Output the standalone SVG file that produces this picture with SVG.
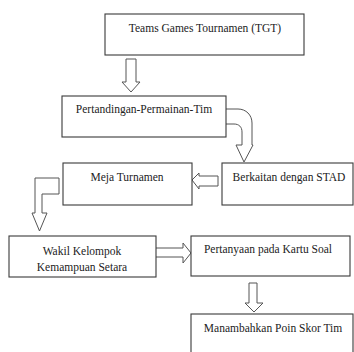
<svg xmlns="http://www.w3.org/2000/svg" width="354" height="352" viewBox="0 0 354 352">
<style>
.box{fill:#fff;stroke:#3a3a3a;stroke-width:1.1}
.arr{fill:#fff;stroke:#555;stroke-width:1;stroke-linejoin:miter}
text{font-family:"Liberation Serif","Times New Roman",serif;font-size:11.5px;fill:#222;text-anchor:middle}
</style>
<rect width="354" height="352" fill="#fff"/>
<g id="connectors">
<path class="arr" d="M126,59 H136 V82 H140 L131,92 L122,82 H126 Z"/>
<path class="arr" d="M225,109 H238 C246,109 252,115 252,123 V145 H253 L244,162 L236,145 H242 V132 C242,127 239,124 234,124 H225"/>
<path class="arr" d="M218,176 H199 V173 L192,180 L199,189 V186 H218 Z"/>
<path class="arr" d="M59,178 H35 V213 H32 L39.5,231 L47,213 H42 V194 H59 Z"/>
<path class="arr" d="M156,248 H183 V243 L191,253 L183,263 V257 H156"/>
<path class="arr" d="M249,283 H257 V303 H263 L254,312 L245,303 H249 Z"/>
</g>
<g id="n1"><rect class="box" x="105" y="14" width="199" height="41"/><text x="205" y="32">Teams Games Tournamen (TGT)</text></g>
<g id="n2"><rect class="box" x="62" y="96" width="164" height="41"/><text x="144" y="113">Pertandingan-Permainan-Tim</text></g>
<g id="n3"><rect class="box" x="222" y="163" width="131" height="42"/><text x="289" y="181">Berkaitan dengan STAD</text></g>
<g id="n4"><rect class="box" x="63" y="163" width="129" height="42"/><text x="127" y="181">Meja Turnamen</text></g>
<g id="n5"><rect class="box" x="9" y="236" width="147" height="41"/><text x="82" y="255">Wakil Kelompok</text><text x="82" y="271">Kemampuan Setara</text></g>
<g id="n6"><rect class="box" x="191" y="236" width="159" height="40"/><text x="268" y="253">Pertanyaan pada Kartu Soal</text></g>
<g id="n7"><rect class="box" x="191" y="314" width="162" height="46"/><text x="273" y="332">Manambahkan Poin Skor Tim</text></g>
</svg>
